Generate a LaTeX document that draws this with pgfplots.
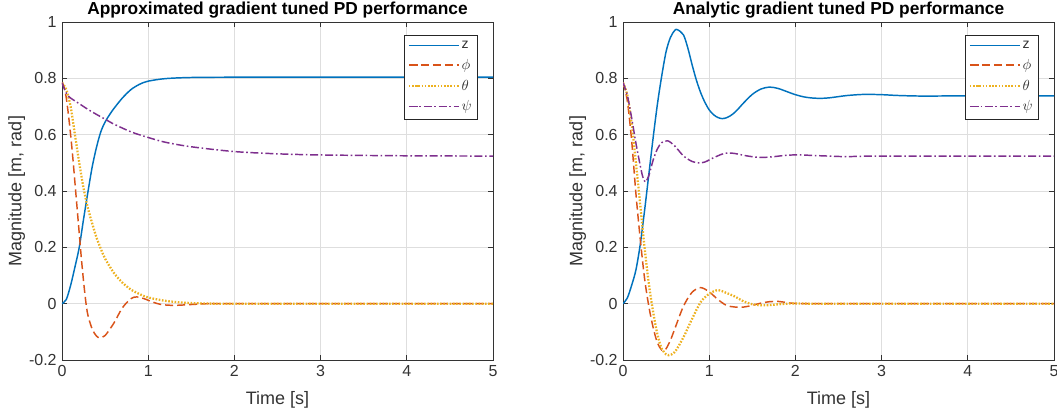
\documentclass[border=0pt]{standalone}
\usepackage{fontspec}
\setmainfont{Liberation Sans}
\usepackage{pgfplots}
\pgfplotsset{compat=1.18}

\definecolor{mblue}{rgb}{0,0.447,0.741}
\definecolor{morange}{rgb}{0.85,0.325,0.098}
\definecolor{myellow}{rgb}{0.929,0.694,0.125}
\definecolor{mpurple}{rgb}{0.494,0.184,0.556}

\pgfplotsset{
  pdstyle/.style={
    scale only axis, width=323.25pt, height=253.5pt,
    xmin=0, xmax=5, ymin=-0.2, ymax=1,
    xtick={0,1,2,3,4,5}, ytick={-0.2,0,0.2,0.4,0.6,0.8,1},
    yticklabels={-0.2,0,0.2,0.4,0.6,0.8,1},
    grid=major, grid style={black!13, line width=0.5pt},
    axis line style={black!80, line width=0.6pt},
    major tick style={black!80, line width=0.6pt},
    major tick length=3.5pt, tick align=inside,
    /pgf/number format/assume math mode=true,
    ticklabel style={font=\fontsize{12}{14}\selectfont, text=black!80},
    xticklabel style={yshift=-0.5pt},
    yticklabel style={xshift=-0.5pt},
    xlabel={Time [s]}, ylabel={Magnitude [m, rad]},
    label style={font=\fontsize{13.5}{16}\selectfont, text=black!80},
    xlabel style={at={(axis description cs:0.5,-0.118)}, anchor=center},
    ylabel style={at={(axis description cs:-0.105,0.5)}, anchor=center},
    % every axis title already carries yshift=6pt, so take it back
    title style={font=\bfseries\fontsize{13}{15}\selectfont, at={(axis description cs:0.5,1.036)}, anchor=center, yshift=-6pt},
    legend cell align=left,
    legend style={at={(rel axis cs:0.965,0.962)}, anchor=north east,
      font=\color{black!80}\fontsize{10.5}{12.5}\selectfont,
      draw=black!85, inner sep=2.5pt, row sep=2.5pt},
    legend image code/.code={
      \draw[#1, line width=1.2pt] plot coordinates {(0cm,0.2pt) (1.3cm,0.2pt)};},
  },
  zline/.style={mblue, line width=1.1pt, smooth, tension=0.5},
  philine/.style={morange, line width=1.1pt, dash pattern=on 6pt off 3pt, smooth, tension=0.5},
  thline/.style={myellow, line width=1.7pt, dash pattern=on 1.2pt off 1.2pt, smooth, tension=0.5},
  psiline/.style={mpurple, line width=1.1pt, dash pattern=on 6pt off 2pt on 1.2pt off 2pt, smooth, tension=0.5},
}

\begin{document}
\begin{tikzpicture}
% approximated gradient
\begin{axis}[pdstyle, at={(0,0)}, anchor=south west,
  title={Approximated gradient tuned PD performance}]
  \addplot[zline] coordinates {(0,0) (0.05,0.015) (0.1,0.065) (0.15,0.13) (0.2,0.2) (0.25,0.3) (0.3,0.395) (0.35,0.485) (0.4,0.555) (0.45,0.61) (0.5,0.645) (0.55,0.67) (0.6,0.692) (0.7,0.73) (0.8,0.76) (0.9,0.779) (1.0,0.79) (1.2,0.799) (1.5,0.803) (2,0.804) (3,0.804) (5,0.804)};
  \addlegendentry{z}
  \addplot[philine] coordinates {(0,0.785) (0.025,0.77) (0.05,0.73) (0.075,0.67) (0.1,0.6) (0.125,0.52) (0.15,0.43) (0.175,0.34) (0.2,0.25) (0.225,0.16) (0.25,0.08) (0.275,0.01) (0.3,-0.04) (0.35,-0.09) (0.4,-0.115) (0.44,-0.121) (0.5,-0.113) (0.6,-0.07) (0.7,-0.015) (0.8,0.018) (0.87,0.024) (0.95,0.018) (1.05,0.006) (1.15,-0.003) (1.3,-0.006) (1.5,-0.003) (1.7,0) (2,0) (5,0)};
  \addlegendentry{$\phi$}
  \addplot[thline] coordinates {(0,0.785) (0.05,0.76) (0.1,0.7) (0.15,0.6) (0.2,0.5) (0.25,0.41) (0.3,0.34) (0.35,0.285) (0.4,0.235) (0.45,0.195) (0.5,0.16) (0.6,0.11) (0.7,0.075) (0.8,0.05) (0.9,0.034) (1.0,0.022) (1.2,0.01) (1.4,0.004) (1.6,0.001) (2,0) (5,0)};
  \addlegendentry{$\theta$}
  \addplot[psiline] coordinates {(0,0.785) (0.03,0.76) (0.06,0.742) (0.1,0.73) (0.2,0.71) (0.3,0.69) (0.4,0.672) (0.5,0.655) (0.6,0.638) (0.8,0.61) (1.0,0.59) (1.2,0.573) (1.5,0.557) (2.0,0.54) (2.5,0.532) (3.0,0.528) (4,0.525) (5,0.524)};
  \addlegendentry{$\psi$}
\end{axis}
% analytic gradient
\begin{axis}[pdstyle, at={(420.75pt,0)}, anchor=south west,
  title={Analytic gradient tuned PD performance}]
  \addplot[zline] coordinates {(0,0) (0.05,0.02) (0.1,0.065) (0.15,0.12) (0.2,0.21) (0.25,0.33) (0.3,0.46) (0.35,0.59) (0.4,0.71) (0.45,0.81) (0.5,0.895) (0.55,0.945) (0.6,0.97) (0.63,0.973) (0.7,0.955) (0.75,0.91) (0.8,0.85) (0.85,0.795) (0.9,0.75) (0.95,0.715) (1.0,0.688) (1.05,0.671) (1.1,0.661) (1.15,0.657) (1.2,0.66) (1.25,0.668) (1.3,0.68) (1.35,0.696) (1.4,0.713) (1.5,0.743) (1.6,0.762) (1.7,0.769) (1.8,0.764) (1.9,0.753) (2.0,0.742) (2.1,0.734) (2.2,0.73) (2.3,0.729) (2.4,0.731) (2.6,0.739) (2.8,0.743) (3.0,0.742) (3.2,0.739) (3.5,0.737) (4,0.738) (5,0.738)};
  \addlegendentry{z}
  \addplot[philine] coordinates {(0,0.785) (0.05,0.72) (0.1,0.58) (0.15,0.39) (0.2,0.23) (0.25,0.09) (0.3,-0.01) (0.35,-0.085) (0.4,-0.14) (0.45,-0.165) (0.47,-0.167) (0.5,-0.16) (0.55,-0.13) (0.6,-0.09) (0.7,-0.01) (0.8,0.04) (0.9,0.057) (1.0,0.042) (1.1,0.015) (1.2,-0.006) (1.3,-0.012) (1.4,-0.012) (1.5,-0.006) (1.6,0.002) (1.7,0.007) (1.8,0.008) (1.9,0.004) (2.0,0.001) (2.3,0) (5,0)};
  \addlegendentry{$\phi$}
  \addplot[thline] coordinates {(0,0.785) (0.05,0.74) (0.1,0.64) (0.15,0.5) (0.2,0.35) (0.25,0.2) (0.3,0.07) (0.35,-0.03) (0.4,-0.11) (0.45,-0.16) (0.5,-0.18) (0.53,-0.183) (0.6,-0.172) (0.7,-0.12) (0.8,-0.055) (0.9,0.005) (1.0,0.035) (1.1,0.048) (1.2,0.038) (1.3,0.025) (1.4,0.008) (1.5,-0.002) (1.6,-0.006) (1.7,-0.005) (1.85,-0.001) (2,0.001) (2.3,0) (5,0)};
  \addlegendentry{$\theta$}
  \addplot[psiline] coordinates {(0,0.785) (0.05,0.74) (0.1,0.66) (0.15,0.57) (0.2,0.49) (0.23,0.45) (0.26,0.432) (0.3,0.455) (0.35,0.51) (0.4,0.55) (0.45,0.572) (0.52,0.578) (0.6,0.56) (0.7,0.525) (0.8,0.505) (0.88,0.5) (0.95,0.503) (1.05,0.518) (1.15,0.531) (1.22,0.535) (1.3,0.533) (1.45,0.524) (1.6,0.519) (1.75,0.522) (1.9,0.527) (2.05,0.528) (2.3,0.525) (2.6,0.522) (3,0.524) (5,0.524)};
  \addlegendentry{$\psi$}
\end{axis}
\pgfresetboundingbox
\path (-46.5pt,-41.25pt) rectangle (746.25pt,270pt);
\end{tikzpicture}
\end{document}
